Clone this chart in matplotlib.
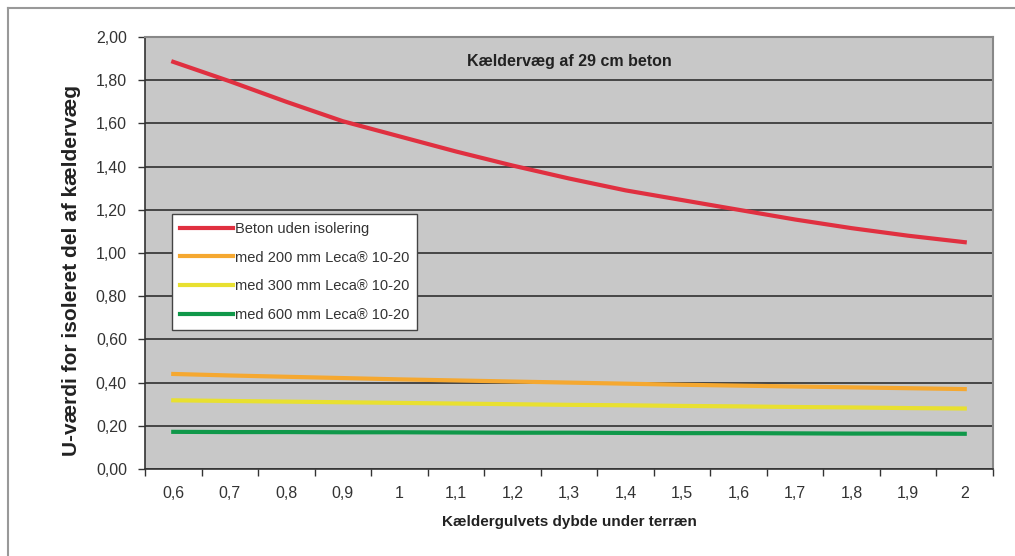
import matplotlib.pyplot as plt
from matplotlib.lines import Line2D
import numpy as np

# Data
depths = ['0,6', '0,7', '0,8', '0,9', '1', '1,1', '1,2', '1,3', '1,4', '1,5',
          '1,6', '1,7', '1,8', '1,9', '2']
beton = [1.885, 1.795, 1.700, 1.610, 1.540, 1.470, 1.405, 1.345, 1.290, 1.245,
         1.200, 1.155, 1.115, 1.080, 1.050]
leca200 = [0.440, 0.433, 0.427, 0.421, 0.415, 0.410, 0.405, 0.400, 0.395, 0.390,
           0.386, 0.382, 0.378, 0.374, 0.370]
leca300 = [0.318, 0.315, 0.312, 0.309, 0.306, 0.303, 0.300, 0.297, 0.295, 0.292,
           0.290, 0.287, 0.285, 0.282, 0.280]
leca600 = [0.172, 0.171, 0.171, 0.170, 0.170, 0.169, 0.168, 0.168, 0.167, 0.166,
           0.166, 0.165, 0.164, 0.164, 0.163]
y_ticks = [0.0, 0.2, 0.4, 0.6, 0.8, 1.0, 1.2, 1.4, 1.6, 1.8, 2.0]

plt.rcParams['font.family'] = ['Liberation Sans', 'DejaVu Sans']

fig = plt.figure(figsize=(10.15, 5.56), dpi=100)
ax = fig.add_axes([145 / 1015, 87 / 556, 848 / 1015, 432 / 556])
ax.set_facecolor('#c8c8c8')

x = np.arange(len(depths))
ax.plot(x, beton, color='#e03040', lw=3, label='Beton uden isolering', zorder=3)
ax.plot(x, leca200, color='#f5a830', lw=3, label='med 200 mm Leca® 10-20', zorder=3)
ax.plot(x, leca300, color='#e8e030', lw=3, label='med 300 mm Leca® 10-20', zorder=3)
ax.plot(x, leca600, color='#10984a', lw=3, label='med 600 mm Leca® 10-20', zorder=3)

ax.set_xlim(-0.5, len(depths) - 0.5)
ax.set_ylim(0, 2.0)
ax.set_xticks(x)
ax.set_xticklabels(depths)
ax.set_xticks(np.arange(-0.5, len(depths), 1), minor=True)
ax.tick_params(axis='x', which='major', length=0, pad=12, labelsize=11.5, colors='#333333')
ax.tick_params(axis='x', which='minor', length=5, width=1, color='#333333')
ax.set_yticks(y_ticks)
ax.set_yticklabels([('%.2f' % v).replace('.', ',') for v in y_ticks])
ax.tick_params(axis='y', length=5, width=1, color='#333333', labelsize=11.5,
               labelcolor='#333333', pad=8)
ax.yaxis.grid(True, color='#303030', lw=1.2)
ax.set_axisbelow(True)

for side in ['top', 'right']:
    ax.spines[side].set_color('#888888')
    ax.spines[side].set_linewidth(1.5)
for side in ['left', 'bottom']:
    ax.spines[side].set_color('#333333')
    ax.spines[side].set_linewidth(1.2)

ax.text(0.5, 0.943, 'Kældervæg af 29 cm beton', transform=ax.transAxes,
        ha='center', va='center', fontsize=11.5, fontweight='bold', color='#222222')

ax.set_xlabel('Kældergulvets dybde under terræn', fontsize=11, fontweight='bold',
              labelpad=10, color='#222222')
ax.set_ylabel('U-værdi for isoleret del af kældervæg', fontsize=15, fontweight='bold',
              color='#222222')
ax.yaxis.set_label_coords((81 - 145) / 848, (469 - 271) / 432)

leg = ax.legend(loc='upper left', bbox_to_anchor=(27 / 848, (469 - 214) / 432),
                borderaxespad=0, fontsize=10.5, frameon=True, fancybox=False,
                handlelength=3.6, handletextpad=0.15, labelspacing=1.0,
                borderpad=0.55)
leg.get_frame().set_edgecolor('#444444')
leg.get_frame().set_linewidth(1)
leg.get_frame().set_alpha(1)
for t in leg.get_texts():
    t.set_color('#333333')

# outer frame (left and top only)
fig.add_artist(Line2D([8 / 1015, 8 / 1015], [0, 1 - 8 / 556], color='#999999', lw=1.5))
fig.add_artist(Line2D([8 / 1015, 1], [1 - 8 / 556, 1 - 8 / 556], color='#999999', lw=1.5))

fig.savefig('out.png', dpi=100)
